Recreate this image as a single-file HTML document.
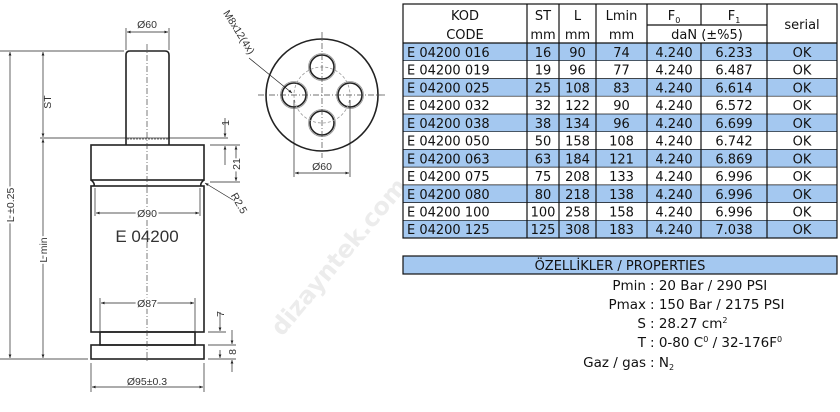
<!DOCTYPE html>
<html><head><meta charset="utf-8"><style>
html,body{margin:0;padding:0;background:#fff;}
svg{display:block;}
</style></head><body>
<svg width="840" height="412" viewBox="0 0 840 412" xmlns="http://www.w3.org/2000/svg">
<defs>
<marker id="a" viewBox="0 0 10 10" refX="10" refY="5" markerWidth="7" markerHeight="5" orient="auto-start-reverse"><path d="M0,1 L10,5 L0,9 z" fill="#222"/></marker>
</defs>
<text x="0" y="0" transform="translate(345,262) rotate(-50)" font-family="DejaVu Sans, sans-serif" font-weight="bold" font-size="24" fill="#ececec" text-anchor="middle">dizayntek.com</text>

<g stroke="#222" fill="none" stroke-width="1.6">
 <path d="M126,145 V55 Q126,51 130,51 H165 Q169,51 169,55 V145"/>
 <rect x="91" y="145" width="113" height="35"/>
 <path d="M91,180 Q95,183 94,186 M204,180 Q200,183 201,186"/>
 <line x1="94" y1="180" x2="201" y2="180" stroke-width="1"/>
 <rect x="91" y="186" width="113" height="146"/>
 <rect x="100" y="332" width="95" height="13"/>
 <rect x="91" y="345" width="113" height="14"/>
 <circle cx="322" cy="95" r="56"/>
 <circle cx="322" cy="67" r="12"/>
 <circle cx="294" cy="95" r="12"/>
 <circle cx="350" cy="95" r="12"/>
 <circle cx="322" cy="123" r="12"/>
</g>
<g stroke="#999" fill="none" stroke-width="0.8">
 <circle cx="322" cy="67" r="13.5"/><circle cx="294" cy="95" r="13.5"/><circle cx="350" cy="95" r="13.5"/><circle cx="322" cy="123" r="13.5"/>
 <circle cx="322" cy="95" r="28" stroke-dasharray="3,2"/>
</g>
<g stroke="#444" stroke-width="0.7" stroke-dasharray="6,2,1,2" fill="none">
 <line x1="147" y1="44" x2="147" y2="362"/>
 <line x1="322" y1="32" x2="322" y2="158"/>
 <line x1="258" y1="95" x2="386" y2="95"/>
 <line x1="127" y1="139" x2="168" y2="139" stroke-dasharray="2,1"/>
</g>
<g stroke="#222" stroke-width="0.7" fill="none">
 <line x1="126" y1="28" x2="126" y2="50"/><line x1="169" y1="28" x2="169" y2="50"/>
 <line x1="127" y1="32" x2="168" y2="32" marker-start="url(#a)" marker-end="url(#a)"/>
 <line x1="0" y1="51" x2="124" y2="51"/>
 <line x1="40" y1="138" x2="228" y2="138"/>
 <line x1="0" y1="359" x2="88" y2="359"/>
 <line x1="10" y1="52" x2="10" y2="358" marker-start="url(#a)" marker-end="url(#a)"/>
 <line x1="43" y1="52" x2="43" y2="137" marker-start="url(#a)" marker-end="url(#a)"/>
 <line x1="43" y1="139" x2="43" y2="358" marker-start="url(#a)" marker-end="url(#a)"/>
 <line x1="225" y1="118" x2="225" y2="137" marker-end="url(#a)"/>
 <line x1="225" y1="165" x2="225" y2="146" marker-end="url(#a)"/>
 <line x1="210" y1="145" x2="240" y2="145"/>
 <line x1="210" y1="182" x2="240" y2="182"/>
 <line x1="236" y1="146" x2="236" y2="181" marker-start="url(#a)" marker-end="url(#a)"/>
 <line x1="233" y1="200" x2="205" y2="183" marker-end="url(#a)"/>
 <line x1="95" y1="188" x2="95" y2="216"/><line x1="200" y1="188" x2="200" y2="216"/>
 <line x1="96" y1="213" x2="199" y2="213" marker-start="url(#a)" marker-end="url(#a)"/>
 <line x1="100" y1="298" x2="100" y2="331"/><line x1="195" y1="298" x2="195" y2="331"/>
 <line x1="101" y1="303" x2="194" y2="303" marker-start="url(#a)" marker-end="url(#a)"/>
 <line x1="208" y1="332" x2="226" y2="332"/>
 <line x1="220" y1="312" x2="220" y2="331" marker-end="url(#a)"/>
 <line x1="208" y1="345" x2="236" y2="345"/>
 <line x1="208" y1="359" x2="236" y2="359"/>
 <line x1="232" y1="330" x2="232" y2="344" marker-end="url(#a)"/>
 <line x1="220" y1="350" x2="220" y2="358" marker-end="url(#a)"/>
 <line x1="232" y1="372" x2="232" y2="360" marker-end="url(#a)"/>
 <line x1="91" y1="363" x2="91" y2="392"/><line x1="204" y1="363" x2="204" y2="392"/>
 <line x1="92" y1="387" x2="203" y2="387" marker-start="url(#a)" marker-end="url(#a)"/>
 <line x1="294" y1="100" x2="294" y2="177"/><line x1="350" y1="100" x2="350" y2="177"/>
 <line x1="295" y1="173" x2="349" y2="173" marker-start="url(#a)" marker-end="url(#a)"/>
 <line x1="249" y1="58" x2="292" y2="93" marker-end="url(#a)"/>
</g>
<g font-family="Liberation Sans, sans-serif" font-size="10.5" fill="#333" text-anchor="middle">
 <text x="147" y="28">Ø60</text>
 <text x="147" y="217" style="paint-order:stroke" stroke="#fff" stroke-width="4">Ø90</text>
 <text x="147" y="307" style="paint-order:stroke" stroke="#fff" stroke-width="4">Ø87</text>
 <text x="147" y="385">Ø95±0.3</text>
 <text x="322" y="170">Ø60</text>
 <text transform="translate(14,205) rotate(-90)" style="paint-order:stroke" stroke="#fff" stroke-width="4">L ±0.25</text>
 <text transform="translate(47,250) rotate(-90)" style="paint-order:stroke" stroke="#fff" stroke-width="4">L min</text>
 <text transform="translate(51,102) rotate(-90)">ST</text>
 <text transform="translate(229,123) rotate(-90)">1</text>
 <text transform="translate(240,164) rotate(-90)" style="paint-order:stroke" stroke="#fff" stroke-width="4">21</text>
 <text transform="translate(224,314) rotate(-90)">7</text>
 <text transform="translate(236,352) rotate(-90)">8</text>
 <text transform="translate(236,205) rotate(60)">R2.5</text>
 <text transform="translate(236,34) rotate(58)">M8x12(4x)</text>
 <text x="147" y="242" font-size="17" fill="#333">E 04200</text>
</g>

<g font-family="DejaVu Sans, Verdana, sans-serif" font-size="13" fill="#111">
 <g fill="#a4c8f0">
  <rect x="403" y="43" width="434" height="17.7"/>
  <rect x="403" y="78.5" width="434" height="17.7"/>
  <rect x="403" y="114" width="434" height="17.7"/>
  <rect x="403" y="149.4" width="434" height="17.7"/>
  <rect x="403" y="184.9" width="434" height="17.7"/>
  <rect x="403" y="220.3" width="434" height="17.7"/>
  <rect x="403" y="256" width="434" height="18"/>
 </g>
 <g stroke="#111" stroke-width="1.2" fill="none">
  <rect x="403" y="4" width="434" height="234"/>
  <rect x="403" y="256" width="434" height="18"/>
  <line x1="403" y1="43" x2="837" y2="43"/>
  <line x1="647" y1="25" x2="767" y2="25"/>
  <line x1="527" y1="4" x2="527" y2="238"/>
  <line x1="559" y1="4" x2="559" y2="238"/>
  <line x1="596" y1="4" x2="596" y2="238"/>
  <line x1="647" y1="4" x2="647" y2="238"/>
  <line x1="701" y1="4" x2="701" y2="25"/><line x1="701" y1="43" x2="701" y2="238"/>
  <line x1="767" y1="4" x2="767" y2="238"/>
 </g>
 <g stroke="#111" stroke-width="0.7">
  <line x1="403" y1="60.7" x2="837" y2="60.7"/><line x1="403" y1="78.5" x2="837" y2="78.5"/>
  <line x1="403" y1="96.2" x2="837" y2="96.2"/><line x1="403" y1="114" x2="837" y2="114"/>
  <line x1="403" y1="131.7" x2="837" y2="131.7"/><line x1="403" y1="149.4" x2="837" y2="149.4"/>
  <line x1="403" y1="167.1" x2="837" y2="167.1"/><line x1="403" y1="184.9" x2="837" y2="184.9"/>
  <line x1="403" y1="202.6" x2="837" y2="202.6"/><line x1="403" y1="220.3" x2="837" y2="220.3"/>
 </g>
 <g text-anchor="middle">
  <text x="465" y="20">KOD</text><text x="465" y="39">CODE</text>
  <text x="543" y="20">ST</text><text x="543" y="39">mm</text>
  <text x="577.5" y="20">L</text><text x="577.5" y="39">mm</text>
  <text x="621.5" y="20">Lmin</text><text x="621.5" y="39">mm</text>
  <text x="674" y="20">F<tspan font-size="8" dy="3">0</tspan></text>
  <text x="734" y="20">F<tspan font-size="8" dy="3">1</tspan></text>
  <text x="707" y="39">daN (±%5)</text>
  <text x="802" y="29">serial</text>
 </g>
 <g>
 <g transform="translate(0,57)"><text x="407">E 04200 016</text><g text-anchor="middle"><text x="543">16</text><text x="577.5">90</text><text x="621.5">74</text><text x="674">4.240</text><text x="734">6.233</text><text x="802">OK</text></g></g>
 <g transform="translate(0,74.7)"><text x="407">E 04200 019</text><g text-anchor="middle"><text x="543">19</text><text x="577.5">96</text><text x="621.5">77</text><text x="674">4.240</text><text x="734">6.487</text><text x="802">OK</text></g></g>
 <g transform="translate(0,92.4)"><text x="407">E 04200 025</text><g text-anchor="middle"><text x="543">25</text><text x="577.5">108</text><text x="621.5">83</text><text x="674">4.240</text><text x="734">6.614</text><text x="802">OK</text></g></g>
 <g transform="translate(0,110.2)"><text x="407">E 04200 032</text><g text-anchor="middle"><text x="543">32</text><text x="577.5">122</text><text x="621.5">90</text><text x="674">4.240</text><text x="734">6.572</text><text x="802">OK</text></g></g>
 <g transform="translate(0,127.9)"><text x="407">E 04200 038</text><g text-anchor="middle"><text x="543">38</text><text x="577.5">134</text><text x="621.5">96</text><text x="674">4.240</text><text x="734">6.699</text><text x="802">OK</text></g></g>
 <g transform="translate(0,145.6)"><text x="407">E 04200 050</text><g text-anchor="middle"><text x="543">50</text><text x="577.5">158</text><text x="621.5">108</text><text x="674">4.240</text><text x="734">6.742</text><text x="802">OK</text></g></g>
 <g transform="translate(0,163.3)"><text x="407">E 04200 063</text><g text-anchor="middle"><text x="543">63</text><text x="577.5">184</text><text x="621.5">121</text><text x="674">4.240</text><text x="734">6.869</text><text x="802">OK</text></g></g>
 <g transform="translate(0,181.1)"><text x="407">E 04200 075</text><g text-anchor="middle"><text x="543">75</text><text x="577.5">208</text><text x="621.5">133</text><text x="674">4.240</text><text x="734">6.996</text><text x="802">OK</text></g></g>
 <g transform="translate(0,198.8)"><text x="407">E 04200 080</text><g text-anchor="middle"><text x="543">80</text><text x="577.5">218</text><text x="621.5">138</text><text x="674">4.240</text><text x="734">6.996</text><text x="802">OK</text></g></g>
 <g transform="translate(0,216.5)"><text x="407">E 04200 100</text><g text-anchor="middle"><text x="543">100</text><text x="577.5">258</text><text x="621.5">158</text><text x="674">4.240</text><text x="734">6.996</text><text x="802">OK</text></g></g>
 <g transform="translate(0,234.2)"><text x="407">E 04200 125</text><g text-anchor="middle"><text x="543">125</text><text x="577.5">308</text><text x="621.5">183</text><text x="674">4.240</text><text x="734">7.038</text><text x="802">OK</text></g></g>
 </g>
 <text x="620" y="270" text-anchor="middle">ÖZELLİKLER / PROPERTIES</text>
 <g font-size="13.5">
 <g text-anchor="end">
  <text x="646" y="290">Pmin</text><text x="646" y="309">Pmax</text><text x="646" y="328">S</text><text x="646" y="347">T</text><text x="646" y="367">Gaz / gas</text>
 </g>
 <text x="650" y="290">: 20 Bar / 290 PSI</text>
 <text x="650" y="309">: 150 Bar / 2175 PSI</text>
 <text x="650" y="328">: 28.27 cm<tspan font-size="8" dy="-5">2</tspan></text>
 <text x="650" y="347">: 0-80 C<tspan font-size="8" dy="-5">0</tspan><tspan dy="5"> / 32-176F</tspan><tspan font-size="8" dy="-5">0</tspan></text>
 <text x="650" y="367">: N<tspan font-size="8" dy="3">2</tspan></text>
 </g>
</g>
</svg>
</body></html>
